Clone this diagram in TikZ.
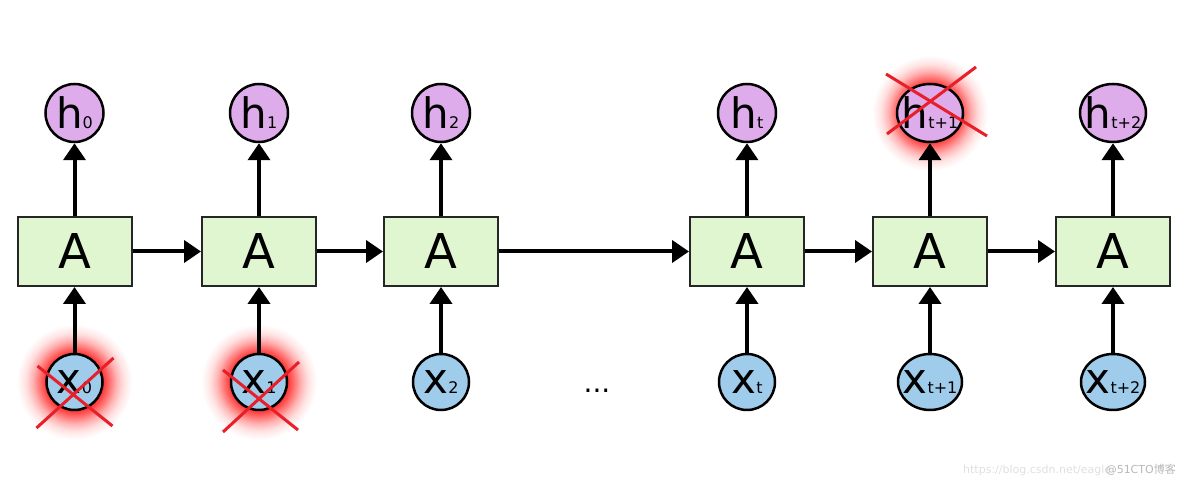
\documentclass[tikz,border=0pt]{standalone}
\usepackage{fontspec}
\setmainfont{DejaVu Sans}
\newfontfamily\cjk{Noto Sans CJK SC}
\usetikzlibrary{arrows.meta, calc, shapes.geometric}

\definecolor{hcol}{RGB}{222,172,235}
\definecolor{xcol}{RGB}{160,204,236}
\definecolor{acol}{RGB}{224,246,208}
\definecolor{crosscol}{RGB}{232,30,40}
\pgfdeclareradialshading{glow}{\pgfpoint{0bp}{0bp}}{color(0bp)=(red); color(12bp)=(red!82); color(15bp)=(red!56); color(18bp)=(red!30); color(21bp)=(red!12); color(23.5bp)=(red!4); color(25bp)=(white); color(50bp)=(white)}
\newcommand{\vlabel}[2]{{\fontsize{42}{42}\selectfont #1}{\fontsize{16}{16}\selectfont #2}}

\begin{document}
\begin{tikzpicture}[x=1pt, y=1pt,
  >={Triangle[length=17pt,width=22pt]},
  flow/.style={->, line width=4pt},
  cell/.style={draw=black!85, line width=2pt, fill=acol, minimum width=114pt, minimum height=69pt, inner sep=0pt, font=\fontsize{48}{48}\selectfont},
  hnode/.style={ellipse, draw, line width=2.5pt, fill=hcol, minimum height=58pt, inner sep=0pt},
  xnode/.style={ellipse, draw, line width=2.5pt, fill=xcol, minimum height=56pt, inner sep=0pt},
  cross/.style={crosscol, line width=3pt}]
\useasboundingbox (0,0) rectangle (1184,494);
\foreach \p in {(74.5,112),(259,112),(930,381)} \shade[shading=glow] \p circle (58);
\foreach \i/\px/\s/\w in {0/74.5/0/58, 1/259/1/58, 2/441/2/58, 3/747/t/58, 4/930/t+1/66, 5/1113/t+2/66}
{
  \node[cell] (a\i) at (\px,242.5) {A};
  \node[hnode, minimum width=\w pt, label=center:{\vlabel{h}{\s}}] (h\i) at (\px,381) {};
  \node[xnode, minimum width=\w pt-2pt, label=center:{\vlabel{x}{\s}}] (x\i) at (\px,112) {};
  \draw[flow] (a\i) -- (h\i);
  \draw[flow] (x\i) -- (a\i);
}
\foreach \i [count=\j] in {0,...,4} \draw[flow] (a\i) -- (a\j);
\node (dots) at (597,103) {\fontsize{28}{28}\selectfont ...};
\draw[cross] ($(x0)+(-37,16)$) -- ($(x0)+(38,-44)$);
\draw[cross] ($(x0)+(-38,-46)$) -- ($(x0)+(39,24)$);
\draw[cross] ($(x1)+(-36,12)$) -- ($(x1)+(39,-48)$);
\draw[cross] ($(x1)+(-36,-50)$) -- ($(x1)+(40,20)$);
\draw[cross] ($(h4)+(-44,39)$) -- ($(h4)+(57,-23)$);
\draw[cross] ($(h4)+(-43,-21)$) -- ($(h4)+(46,46)$);
\node[anchor=base west, inner sep=1pt, text=black!12, font=\fontsize{11}{11}\selectfont] (wm1) at (962,20) {https://blog.csdn.net/eagle};
\node[anchor=base east, inner sep=1pt, text=black!28, font=\fontsize{11}{11}\selectfont] (wm2) at (1177,20) {@51CTO{\cjk 博客}};
\end{tikzpicture}
\end{document}
